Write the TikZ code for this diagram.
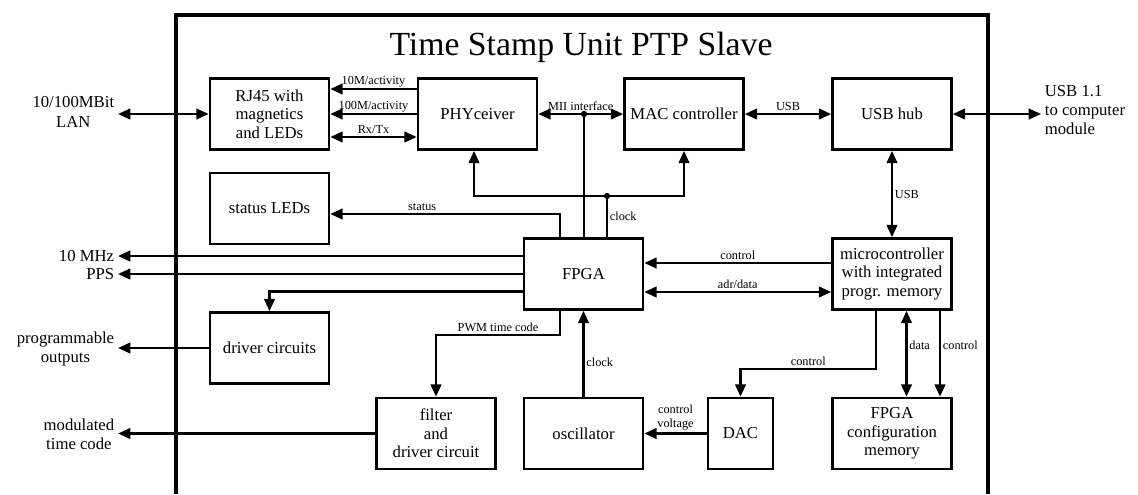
\documentclass[tikz,border=0pt]{standalone}
\usepackage{fontspec}
\setmainfont{Liberation Serif}
\usetikzlibrary{arrows.meta}

\begin{document}
\begin{tikzpicture}[x=0.02cm,y=-0.02cm,>={Triangle[length=7pt,width=6pt]},
  blk/.style={draw,line width=1.5pt,minimum width=2.38cm,minimum height=1.42cm,align=center,inner sep=1pt,font=\fontsize{9.5}{10.5}\selectfont},
  ext/.style={align=center,inner sep=2pt,font=\fontsize{9.5}{11}\selectfont},
  lbl/.style={align=center,inner sep=1pt,font=\fontsize{7}{8}\selectfont},
  wire/.style={line width=1.35pt}]
\useasboundingbox (0,0) rectangle (1138,494);
\draw[line width=2.6pt] (176,494) -- (176,15) -- (988,15) -- (988,494); % outer frame
\node[font=\fontsize{19.2}{22}\selectfont] (title) at (581,47) {Time Stamp Unit PTP Slave};
% blocks
\node[blk] (rj) at (269.5,114) {RJ45 with\\magnetics\\and LEDs};
\node[blk] (phy) at (477.5,114) {PHYceiver};
\node[blk] (mac) at (684,114) {MAC controller};
\node[blk] (hub) at (892,114) {USB hub};
\node[blk] (status) at (269.5,208.5) {status LEDs};
\node[blk] (fpga) at (583.5,274) {FPGA};
\node[blk] (micro) at (892,274) {microcontroller\\with integrated\\progr. memory};
\node[blk] (drivers) at (269.5,348) {driver circuits};
\node[blk] (filter) at (436,433.5) {filter\\and\\driver circuit};
\node[blk] (osc) at (583.5,433.5) {oscillator};
\node[blk,minimum width=1.3cm] (dac) at (740.5,433.5) {DAC};
\node[blk] (config) at (892,433.5) {FPGA\\configuration\\memory};
% outside world
\node[ext,anchor=east] (lan) at (118,112) {10/100MBit\\LAN};
\node[ext,anchor=west,align=left] (usbext) at (1041,110) {USB 1.1\\to computer\\module};
\node[ext,anchor=east] (mhz) at (118,256) {10 MHz};
\node[ext,anchor=east] (pps) at (118,274) {PPS};
\node[ext,anchor=east] (progout) at (118,349) {programmable\\outputs};
\node[ext,anchor=east] (modtc) at (118,434) {modulated\\time code};
% ethernet side
\draw[wire,<->] (lan.east |- rj.west) -- (rj.west);
\draw[wire,->] ([yshift=0.5cm]phy.west) -- node[lbl,above,inner sep=0.5pt] {10M/activity} ([yshift=0.5cm]rj.east);
\draw[wire,->] (phy.west) -- node[lbl,above,inner sep=0.5pt] {100M/activity} (rj.east);
\draw[wire,<->] ([yshift=-0.46cm]phy.west) -- node[lbl,above] {Rx/Tx} ([yshift=-0.46cm]rj.east);
\draw[wire,<->] (phy.east) -- node[lbl,above] {MII interface} (mac.west);
\coordinate (miitap) at (584,114);
\fill (miitap) circle[radius=1.8pt];
\draw[wire] (miitap) -- (miitap |- fpga.north); % MII to FPGA
\draw[wire,<->] (mac.east) -- node[lbl,above] {USB} (hub.west);
\draw[wire,<->] (hub.east) -- (hub.east -| usbext.west);
% clock bus
\coordinate (clkbus) at (607,196);
\draw[wire] (clkbus |- fpga.north) -- node[lbl,right] {clock} (clkbus);
\fill (clkbus) circle[radius=1.8pt];
\draw[wire,->] (clkbus) -| ([xshift=-0.07cm]phy.south);
\draw[wire,->] (clkbus) -| (mac.south);
\draw[wire,->] ([xshift=-0.47cm]fpga.north) |- node[lbl,above,pos=0.8] {status} ([yshift=-0.11cm]status.east);
% FPGA outputs
\draw[wire,<-] (mhz.east) -- (mhz.east -| fpga.west);
\draw[wire,<-] (pps.east) -- (pps.east -| fpga.west);
\draw[wire,->] ([yshift=-0.35cm]fpga.west) -| (drivers.north);
\draw[wire,->] (drivers.west) -- (drivers.west -| progout.east);
\draw[wire,->] ([xshift=-0.47cm]fpga.south) -- ++(0,24) -| node[lbl,above,pos=0.25] {PWM time code} (filter.north);
\draw[wire,->] (filter.west) -- (filter.west -| modtc.east);
% oscillator and DAC
\draw[wire,->] (osc.north) -- node[lbl,right,pos=0.4] {clock} (fpga.south);
\draw[wire,->] (dac.west) -- node[lbl,above] {control\\voltage} (osc.east);
% microcontroller
\draw[wire,->] ([yshift=0.22cm]micro.west) -- node[lbl,above] {control} ([yshift=0.22cm]micro.west -| fpga.east);
\draw[wire,<->] ([yshift=-0.36cm]micro.west) -- node[lbl,above] {adr/data} ([yshift=-0.36cm]micro.west -| fpga.east);
\draw[wire,<->] (hub.south) -- node[lbl,right] {USB} (micro.north);
\draw[wire,->] ([xshift=-0.32cm]micro.south) -- ++(0,58) -| node[lbl,above,pos=0.25] {control} (dac.north);
\draw[wire,<->] ([xshift=0.29cm]micro.south) -- node[lbl,right,pos=0.4] {data} ([xshift=0.29cm]config.north);
\draw[wire,->] ([xshift=0.96cm]micro.south) -- node[lbl,right,pos=0.4] {control} ([xshift=0.96cm]config.north);
\end{tikzpicture}
\end{document}
